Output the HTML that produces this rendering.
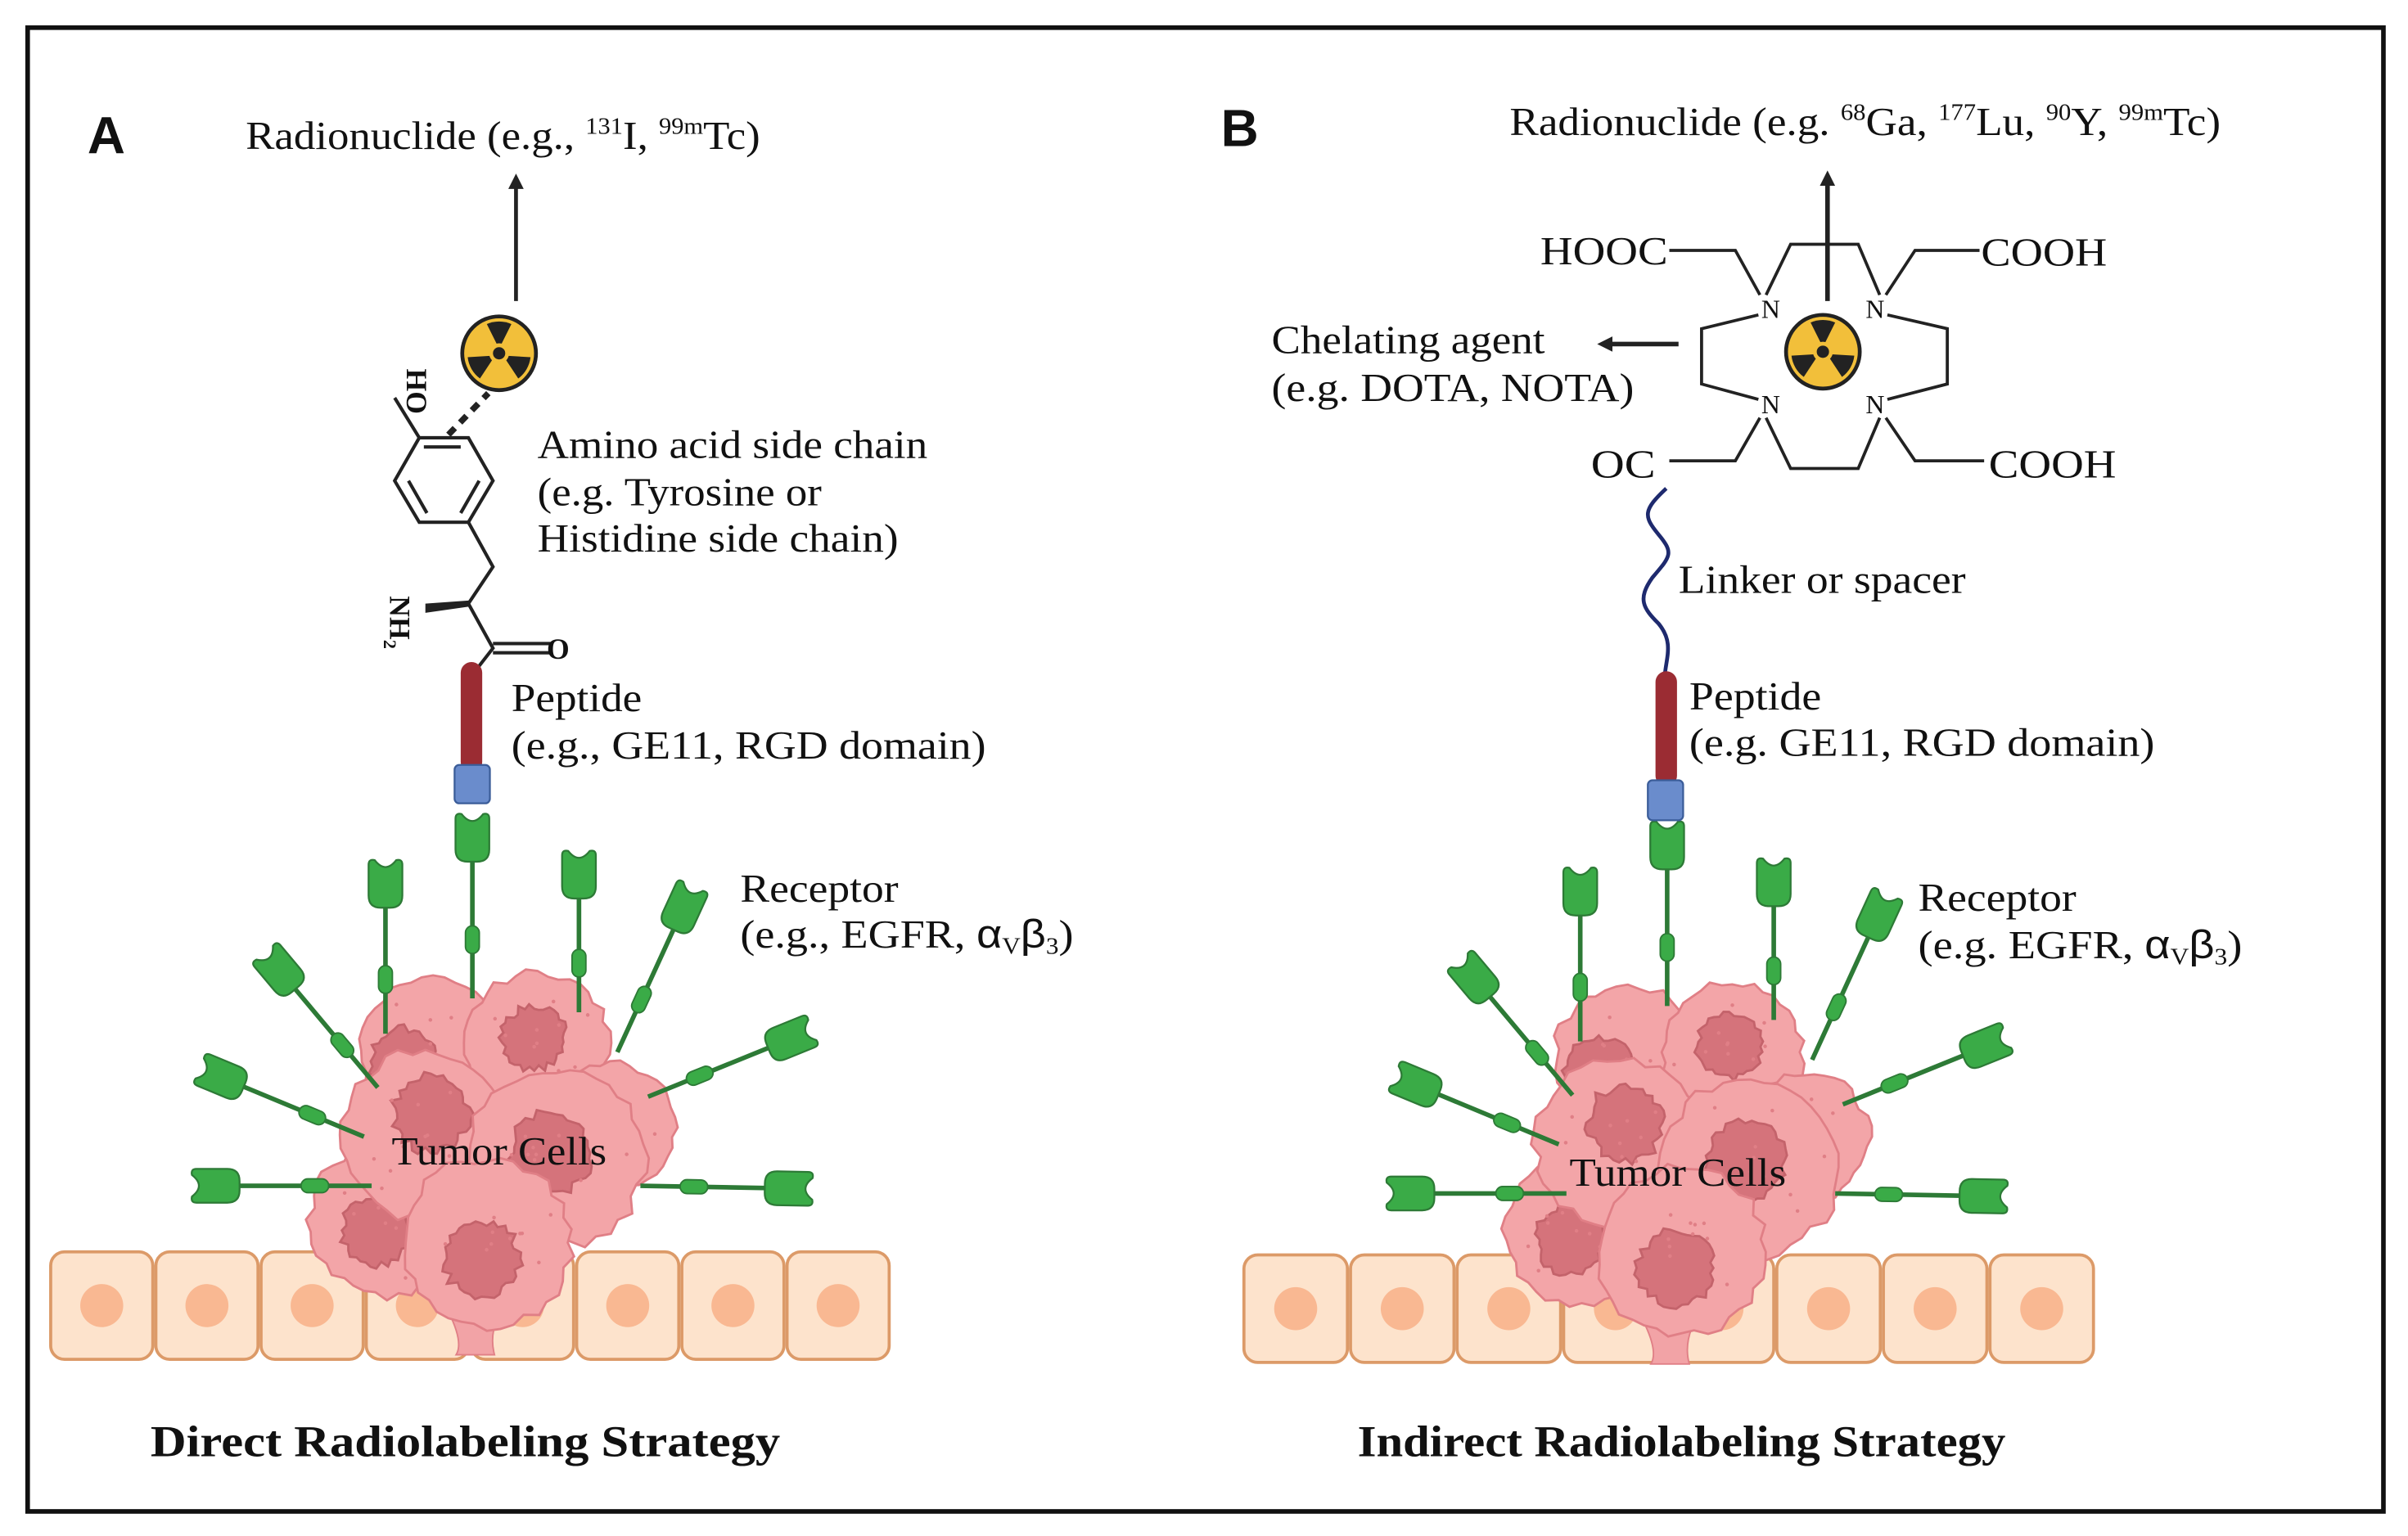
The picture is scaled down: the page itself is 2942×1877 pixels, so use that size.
<!DOCTYPE html>
<html><head><meta charset="utf-8"><style>
html,body{margin:0;padding:0;background:#fff}
svg{display:block}
text{font-family:"Liberation Serif",serif;fill:#111}
.s{font-size:26px}
.b{font-family:"Liberation Sans",sans-serif;font-weight:bold}
</style></head><body>
<svg id="sv" width="2942" height="1877" viewBox="0 0 1568 1000" preserveAspectRatio="none" xmlns="http://www.w3.org/2000/svg">
<defs>
<g id="rad">
<circle r="24" fill="#f2bf3a" stroke="#222" stroke-width="2.5"/>
<path d="M0,-3 L-8,-19 A20,20 0 0 1 8,-19 Z" fill="#222" transform="rotate(0)"/>
<path d="M0,-3 L-8,-19 A20,20 0 0 1 8,-19 Z" fill="#222" transform="rotate(120)"/>
<path d="M0,-3 L-8,-19 A20,20 0 0 1 8,-19 Z" fill="#222" transform="rotate(240)"/>
<circle r="6.5" fill="#f2bf3a"/><circle r="4" fill="#222"/>
</g>
<marker id="ah" markerWidth="10" markerHeight="10" refX="5" refY="5" orient="auto" markerUnits="userSpaceOnUse"><path d="M0,0 L10,5 L0,10 Z" fill="#222"/></marker>
</defs>
<rect x="18" y="18" width="1534" height="966" fill="none" stroke="#111" stroke-width="3"/>
<g id="cellsA"></g><g id="cellsB"></g>
<g id="tumA"></g><g id="tumB"></g>
<g id="recA"></g><g id="recB"></g>

<!-- Panel A -->
<text x="57" y="100" class="b" font-size="34">A</text>
<text x="160" y="97" class="s" textLength="335" lengthAdjust="spacingAndGlyphs">Radionuclide (e.g., <tspan font-size="15" dy="-10">131</tspan><tspan dy="10">I, </tspan><tspan font-size="15" dy="-10">99m</tspan><tspan dy="10">Tc)</tspan></text>
<line x1="336" y1="196" x2="336" y2="118" stroke="#222" stroke-width="2.5" marker-end="url(#ah)"/>
<use href="#rad" x="325" y="230"/>
<path d="M292,283 L318,256" stroke="#222" stroke-width="4" stroke-dasharray="6,5"/>
<g fill="none" stroke="#222" stroke-width="2.2">
<path d="M273,285 L305,285 L321,313 L305,340 L273,340 L257,313 Z"/>
<path d="M276,291 L300,291 M312,313 L300,334 M266,313 L278,334"/>
<path d="M273,285 L257,259"/>
<path d="M305,340 L321,369 L305,393 L321,422 L307,440"/>
<path d="M321,419 L360,419 M321,425 L360,425"/>
</g>
<path d="M305,391 L277,393 L277,399 L305,395 Z" fill="#222"/>
<text transform="translate(265,240) rotate(90)" font-family="Liberation Sans" font-size="19" font-weight="bold">HO</text>
<text transform="translate(254,388) rotate(90)" font-family="Liberation Sans" font-size="19" font-weight="bold">NH<tspan font-size="12" dy="4">2</tspan></text>
<text x="356" y="429" font-family="Liberation Sans" font-size="19" font-weight="bold">O</text>
<text x="350" y="298" class="s" textLength="254" lengthAdjust="spacingAndGlyphs">Amino acid side chain</text>
<text x="350" y="329" class="s" textLength="185" lengthAdjust="spacingAndGlyphs">(e.g. Tyrosine or</text>
<text x="350" y="359" class="s" textLength="235" lengthAdjust="spacingAndGlyphs">Histidine side chain)</text>
<rect x="300" y="431" width="14" height="72" rx="7" fill="#9b2c33"/>
<rect x="296" y="498" width="23" height="25" rx="3" fill="#6a8ccc" stroke="#3b5d99" stroke-width="1.2"/>
<text x="333" y="463" class="s" textLength="85" lengthAdjust="spacingAndGlyphs">Peptide</text>
<text x="333" y="494" class="s" textLength="309" lengthAdjust="spacingAndGlyphs">(e.g., GE11, RGD domain)</text>
<text x="482" y="587" class="s" textLength="103" lengthAdjust="spacingAndGlyphs">Receptor</text>
<text x="482" y="617" class="s" textLength="217" lengthAdjust="spacingAndGlyphs">(e.g., EGFR, <tspan font-family="Liberation Sans">α</tspan><tspan font-size="15" dy="4">V</tspan><tspan font-family="Liberation Sans" dy="-4">β</tspan><tspan font-size="15" dy="4">3</tspan><tspan dy="-4">)</tspan></text>
<text x="255" y="758" class="s" textLength="140" lengthAdjust="spacingAndGlyphs">Tumor Cells</text>
<text x="98" y="948" font-size="29" font-weight="bold" textLength="410" lengthAdjust="spacingAndGlyphs">Direct Radiolabeling  Strategy</text>

<!-- Panel B -->
<text x="795" y="95" class="b" font-size="34">B</text>
<text x="983" y="88" class="s" textLength="463" lengthAdjust="spacingAndGlyphs">Radionuclide (e.g. <tspan font-size="15" dy="-10">68</tspan><tspan dy="10">Ga, </tspan><tspan font-size="15" dy="-10">177</tspan><tspan dy="10">Lu, </tspan><tspan font-size="15" dy="-10">90</tspan><tspan dy="10">Y, </tspan><tspan font-size="15" dy="-10">99m</tspan><tspan dy="10">Tc)</tspan></text>
<g fill="none" stroke="#222" stroke-width="2">
<path d="M1150,192 L1166,159 L1210,159 L1224,192"/>
<path d="M1145,205 L1108,214 L1108,250 L1145,260"/>
<path d="M1229,205 L1268,214 L1268,250 L1229,260"/>
<path d="M1150,272 L1166,305 L1210,305 L1224,272"/>
<path d="M1146,192 L1130,163 L1087,163"/>
<path d="M1228,192 L1247,163 L1289,163"/>
<path d="M1146,272 L1130,300 L1087,300"/>
<path d="M1228,272 L1247,300 L1292,300"/>
</g>
<g font-family="Liberation Sans" font-size="17" text-anchor="middle">
<text x="1153" y="207">N</text><text x="1221" y="207">N</text>
<text x="1153" y="269">N</text><text x="1221" y="269">N</text>
</g>
<use href="#rad" x="1187" y="229"/>
<line x1="1190" y1="196" x2="1190" y2="116" stroke="#222" stroke-width="3" marker-end="url(#ah)"/>
<line x1="1093" y1="224" x2="1045" y2="224" stroke="#222" stroke-width="3" marker-end="url(#ah)"/>
<text x="1003" y="172" class="s" textLength="83" lengthAdjust="spacingAndGlyphs">HOOC</text>
<text x="1290" y="173" class="s" textLength="82" lengthAdjust="spacingAndGlyphs">COOH</text>
<text x="1036" y="311" class="s" textLength="42" lengthAdjust="spacingAndGlyphs">OC</text>
<text x="1295" y="311" class="s" textLength="83" lengthAdjust="spacingAndGlyphs">COOH</text>
<text x="828" y="230" class="s" textLength="178" lengthAdjust="spacingAndGlyphs">Chelating agent</text>
<text x="828" y="261" class="s" textLength="236" lengthAdjust="spacingAndGlyphs">(e.g. DOTA, NOTA)</text>
<path d="M1085,318 C1070,332 1070,336 1080,348 C1090,360 1088,362 1076,376 C1066,390 1070,396 1080,406 C1090,418 1085,428 1084,440" fill="none" stroke="#1e2a6e" stroke-width="2.5"/>
<text x="1093" y="386" class="s" textLength="187" lengthAdjust="spacingAndGlyphs">Linker or spacer</text>
<rect x="1078" y="437" width="14" height="75" rx="7" fill="#9b2c33"/>
<rect x="1073" y="508" width="23" height="26" rx="3" fill="#6a8ccc" stroke="#3b5d99" stroke-width="1.2"/>
<text x="1100" y="462" class="s" textLength="86" lengthAdjust="spacingAndGlyphs">Peptide</text>
<text x="1100" y="492" class="s" textLength="303" lengthAdjust="spacingAndGlyphs">(e.g. GE11, RGD domain)</text>
<text x="1249" y="593" class="s" textLength="103" lengthAdjust="spacingAndGlyphs">Receptor</text>
<text x="1249" y="624" class="s" textLength="211" lengthAdjust="spacingAndGlyphs">(e.g. EGFR, <tspan font-family="Liberation Sans">α</tspan><tspan font-size="15" dy="4">V</tspan><tspan font-family="Liberation Sans" dy="-4">β</tspan><tspan font-size="15" dy="4">3</tspan><tspan dy="-4">)</tspan></text>
<text x="1022" y="772" class="s" textLength="141" lengthAdjust="spacingAndGlyphs">Tumor Cells</text>
<text x="884" y="948" font-size="29" font-weight="bold" textLength="422" lengthAdjust="spacingAndGlyphs">Indirect Radiolabeling Strategy</text>
</svg>
<script>
var NS="http://www.w3.org/2000/svg";
function el(p,t,a){var e=document.createElementNS(NS,t);for(var k in a)e.setAttribute(k,a[k]);p.appendChild(e);return e;}
function cells(id,x0,w,y0){var g=document.getElementById(id);
 for(var i=0;i<8;i++){var x=x0+i*w;
  el(g,"rect",{x:x+1,y:y0,width:w-2,height:70,rx:9,fill:"#fde3cc",stroke:"#dc9a68","stroke-width":2});
  el(g,"circle",{cx:x+w/2,cy:y0+35,r:14,fill:"#f9b892"});}}
cells("cellsA",32,68.5,815);cells("cellsB",809,69.4,817);
var seed=7;function rnd(){seed=(seed*9301+49297)%233280;return seed/233280;}
function blob(g,cx,cy,r,j,fill,stroke){var d="";var n=40;
 for(var i=0;i<n;i++){var a=i/n*2*Math.PI;var rr=r*(1+(rnd()-0.5)*j);var x=cx+rr*Math.cos(a),y=cy+rr*Math.sin(a);d+=(i?"L":"M")+x.toFixed(1)+","+y.toFixed(1);}
 el(g,"path",{d:d+"Z",fill:fill,stroke:stroke,"stroke-width":1.5});}
function tumor(id,dx,dy){var g=document.getElementById(id);
 el(g,"path",{d:"M"+(dx+1070)+","+(dy+860)+" Q"+(dx+1080)+","+(dy+880)+" "+(dx+1075)+","+(dy+888)+" L"+(dx+1100)+","+(dy+888)+" Q"+(dx+1095)+","+(dy+870)+" "+(dx+1110)+","+(dy+850)+" Z",fill:"#f2a3a6",stroke:"#e07f86"});
 var cs=[[1060,690,48,1033,700],[1128,685,46,1125,680],[1030,800,50,1020,810],[1175,740,42,1170,785],[1055,745,55,1060,725],[1140,760,58,1135,755],[1095,815,55,1090,830]];
 cs.forEach(function(c){blob(g,dx+c[0],dy+c[1],c[2],0.12,"#f3a5a8","#e07f86");
  blob(g,dx+c[3]+(c[0]-c[3])*0.3,dy+c[4]+(c[1]-c[4])*0.3,c[2]*0.45,0.25,"#d5737b","#c4636b");
  for(var k=0;k<10;k++){var a=rnd()*6.28,rr=rnd()*c[2]*0.85;el(g,"circle",{cx:dx+c[0]+rr*Math.cos(a),cy:dy+c[1]+rr*Math.sin(a),r:1.2,fill:"#e07f86"});}});}
tumor("tumB",0,0);tumor("tumA",-778,-6);
var R=[[1029,566,1029,678],[1085.6,536,1085.6,655],[1155,560,1155,664],[1229,583,1180,690],[951,626,1024,713],[909,701,1015,745],[904,777,1020,777],[1306,676,1200,719],[1306,779,1195,777]];
function recs(id,dx,dy){var g=document.getElementById(id);
 R.forEach(function(r){var hx=r[0]+dx,hy=r[1]+dy,bx=r[2]+dx,by=r[3]+dy;
  var vx=hx-bx,vy=hy-by,L=Math.sqrt(vx*vx+vy*vy);var ux=vx/L,uy=vy/L;
  var ex=hx-ux*28,ey=hy-uy*28;
  el(g,"line",{x1:bx,y1:by,x2:ex,y2:ey,stroke:"#2d7a36","stroke-width":3});
  var mx=bx+(ex-bx)*0.42,my=by+(ey-by)*0.42;var ang=Math.atan2(uy,ux)*180/Math.PI;
  el(g,"rect",{x:-9,y:-4.5,width:18,height:9,rx:4.5,fill:"#3aab47",stroke:"#2d7a36","stroke-width":1,transform:"translate("+mx+","+my+") rotate("+ang+")"});
  el(g,"path",{d:"M-22,-11 Q-30,-11 -30,-3 L-30,3 Q-30,11 -22,11 L-2,11 Q2,11 1,7 Q-8,0 1,-7 Q2,-11 -2,-11 Z",fill:"#3aab47",stroke:"#2d7a36","stroke-width":1.2,transform:"translate("+hx+","+hy+") rotate("+ang+")"});});}
recs("recB",0,0);recs("recA",-778,-5);
</script>
</body></html>
